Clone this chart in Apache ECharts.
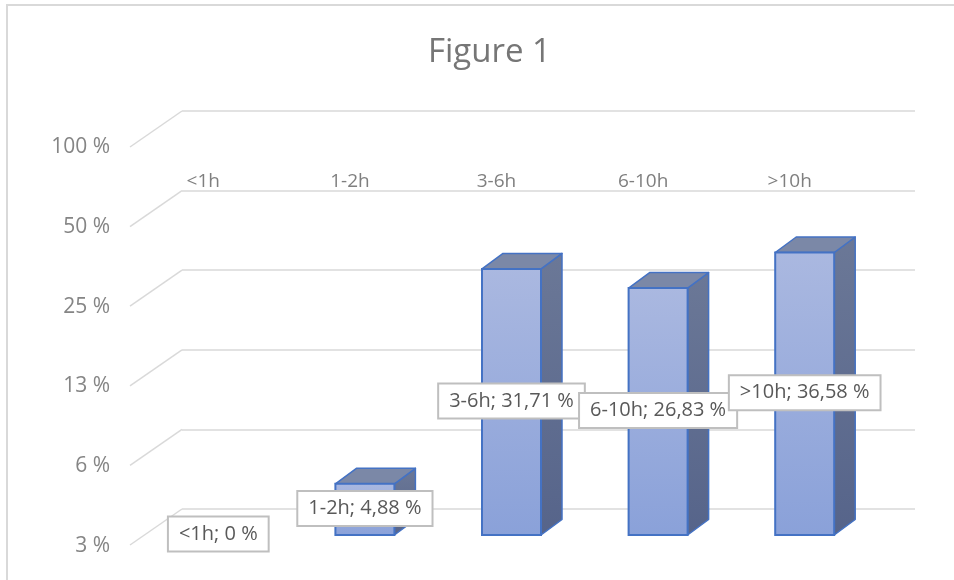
<!DOCTYPE html>
<html>
<head>
<meta charset="utf-8">
<script src="https://cdn.jsdelivr.net/npm/echarts@6/dist/echarts.min.js"></script>
<style>
  html, body { margin: 0; padding: 0; background: #fff; }
  #chart { width: 954px; height: 580px; }
</style>
</head>
<body>
<div id="chart"></div>
<script>
// Time categories and their shares (percent)
const categories = ['<1h', '1-2h', '3-6h', '6-10h', '>10h'];
const shares = [0, 4.88, 31.71, 26.83, 36.58];

// Log-2 value axis: bounds and tick values with their printed labels
const yMin = 3.125;
const yMax = 100;
const yTicks = [3.125, 6.25, 12.5, 25, 50, 100];
const yTickLabels = ['3 %', '6 %', '13 %', '25 %', '50 %', '100 %'];

// Pseudo-3D geometry (pixel offsets relative to the back wall)
const WALL = { dx: -52, dy: 36 };      // front edge of the side wall
const FRONT = { dx: -37, dy: 26 };     // front face of each column
const BACK = { dx: -16, dy: 10.5 };    // back face of each column
const BAR_W = 59;

const FONT = "'Open Sans', 'Liberation Sans', sans-serif";
const GRID_COLOR = '#d9d9d9';
const EDGE = '#4472c4';

const chart = echarts.init(document.getElementById('chart'), null, { renderer: 'canvas' });

function columnGeometry(api) {
  const i = api.value(0);
  const v = api.value(1);
  const top = api.coord([i, Math.max(v, yMin)]);
  const bottom = api.coord([i, yMin]);
  const cx = top[0];
  const f = {
    l: cx + FRONT.dx - BAR_W / 2, r: cx + FRONT.dx + BAR_W / 2,
    t: top[1] + FRONT.dy, b: bottom[1] + FRONT.dy
  };
  const k = {
    l: cx + BACK.dx - BAR_W / 2, r: cx + BACK.dx + BAR_W / 2,
    t: top[1] + BACK.dy, b: bottom[1] + BACK.dy
  };
  return { v, f, k };
}

function renderColumn(params, api) {
  const { v, f, k } = columnGeometry(api);
  if (!(v > 0)) return { type: 'group', children: [] };
  const sideFill = new echarts.graphic.LinearGradient(0, 0, 0, 1, [
    { offset: 0, color: '#6b7897' }, { offset: 1, color: '#56648a' }
  ]);
  const frontFill = new echarts.graphic.LinearGradient(0, 0, 0, 1, [
    { offset: 0, color: '#aab8e0' }, { offset: 1, color: '#8aa1d9' }
  ]);
  return {
    type: 'group',
    children: [
      {
        type: 'polygon',
        shape: { points: [[f.r, f.t], [k.r, k.t], [k.r, k.b], [f.r, f.b]] },
        style: { fill: sideFill, stroke: EDGE, lineWidth: 1.5, lineJoin: 'round' }
      },
      {
        type: 'polygon',
        shape: { points: [[f.l, f.t], [k.l, k.t], [k.r, k.t], [f.r, f.t]] },
        style: { fill: '#7b88a7', stroke: EDGE, lineWidth: 1.5, lineJoin: 'round' }
      },
      {
        type: 'rect',
        shape: { x: f.l, y: f.t, width: f.r - f.l, height: f.b - f.t },
        style: { fill: frontFill, stroke: EDGE, lineWidth: 2 }
      }
    ]
  };
}

function renderLabel(params, api) {
  const { v, f } = columnGeometry(api);
  const name = categories[api.value(0)];
  const text = name + '; ' + String(v).replace('.', ',') + ' %';
  return {
    type: 'text',
    x: (f.l + f.r) / 2,
    y: (f.t + f.b) / 2 - 1,
    style: {
      text: text,
      align: 'center',
      verticalAlign: 'middle',
      fill: '#595959',
      font: '20px ' + FONT,
      backgroundColor: '#ffffff',
      borderColor: '#bfbfbf',
      borderWidth: 2,
      padding: [7, 10, 6, 10]
    }
  };
}

function renderWallLine(params, api) {
  const left = params.coordSys.x;
  const y = api.coord([0, api.value(1)])[1];
  return {
    type: 'line',
    shape: { x1: left + WALL.dx, y1: y + WALL.dy, x2: left, y2: y },
    style: { stroke: GRID_COLOR, lineWidth: 1.5 }
  };
}

const option = {
  backgroundColor: '#ffffff',
  animation: false,
  title: {
    text: 'Figure 1',
    left: 423,
    top: 31,
    textStyle: { fontFamily: FONT, fontSize: 33, fontWeight: 'normal', color: '#767676' }
  },
  graphic: [
    { type: 'line', shape: { x1: 6, y1: 5, x2: 954, y2: 5 }, style: { stroke: '#d9d9d9', lineWidth: 2 } },
    { type: 'line', shape: { x1: 7, y1: 5, x2: 7, y2: 580 }, style: { stroke: '#d9d9d9', lineWidth: 2 } }
  ],
  grid: [
    // back wall
    { left: 182, right: 39, top: 111, bottom: 71 },
    // front plane (axis labels)
    { left: 130, right: 91, top: 147, bottom: 34 }
  ],
  xAxis: [
    {
      type: 'category', gridIndex: 0, data: categories,
      axisLine: { show: false }, axisTick: { show: false }, axisLabel: { show: false },
      splitLine: { show: false }
    },
    {
      type: 'category', gridIndex: 1, data: categories, position: 'top',
      axisLine: { show: false }, axisTick: { show: false }, splitLine: { show: false },
      axisLabel: { inside: true, margin: 25, fontFamily: FONT, fontSize: 19, color: '#7f7f7f' }
    }
  ],
  yAxis: [
    {
      type: 'log', logBase: 2, gridIndex: 0, min: yMin, max: yMax,
      axisLine: { show: false }, axisTick: { show: false }, axisLabel: { show: false },
      splitLine: { show: false }
    },
    {
      type: 'category', gridIndex: 0, data: yTickLabels, boundaryGap: false,
      axisLine: { show: false }, axisTick: { show: false }, axisLabel: { show: false },
      splitLine: { show: true, lineStyle: { color: GRID_COLOR, width: 1.5 } }
    },
    {
      type: 'category', gridIndex: 1, data: yTickLabels, boundaryGap: false,
      axisLine: { show: false }, axisTick: { show: false }, splitLine: { show: false },
      axisLabel: { margin: 20, fontFamily: FONT, fontSize: 21, color: '#858585' }
    }
  ],
  series: [
    {
      type: 'custom', name: 'wall', xAxisIndex: 0, yAxisIndex: 0, z: 1,
      data: yTicks.map(t => [0, t]),
      encode: { x: 0, y: 1 },
      renderItem: renderWallLine,
      silent: true
    },
    {
      type: 'custom', name: 'columns', xAxisIndex: 0, yAxisIndex: 0, z: 3,
      data: shares.map((v, i) => [i, v]),
      encode: { x: 0, y: 1 },
      renderItem: renderColumn
    },
    {
      type: 'custom', name: 'labels', xAxisIndex: 0, yAxisIndex: 0, z: 5,
      data: shares.map((v, i) => [i, v]),
      encode: { x: 0, y: 1 },
      renderItem: renderLabel
    }
  ]
};

chart.setOption(option);
</script>
</body>
</html>
